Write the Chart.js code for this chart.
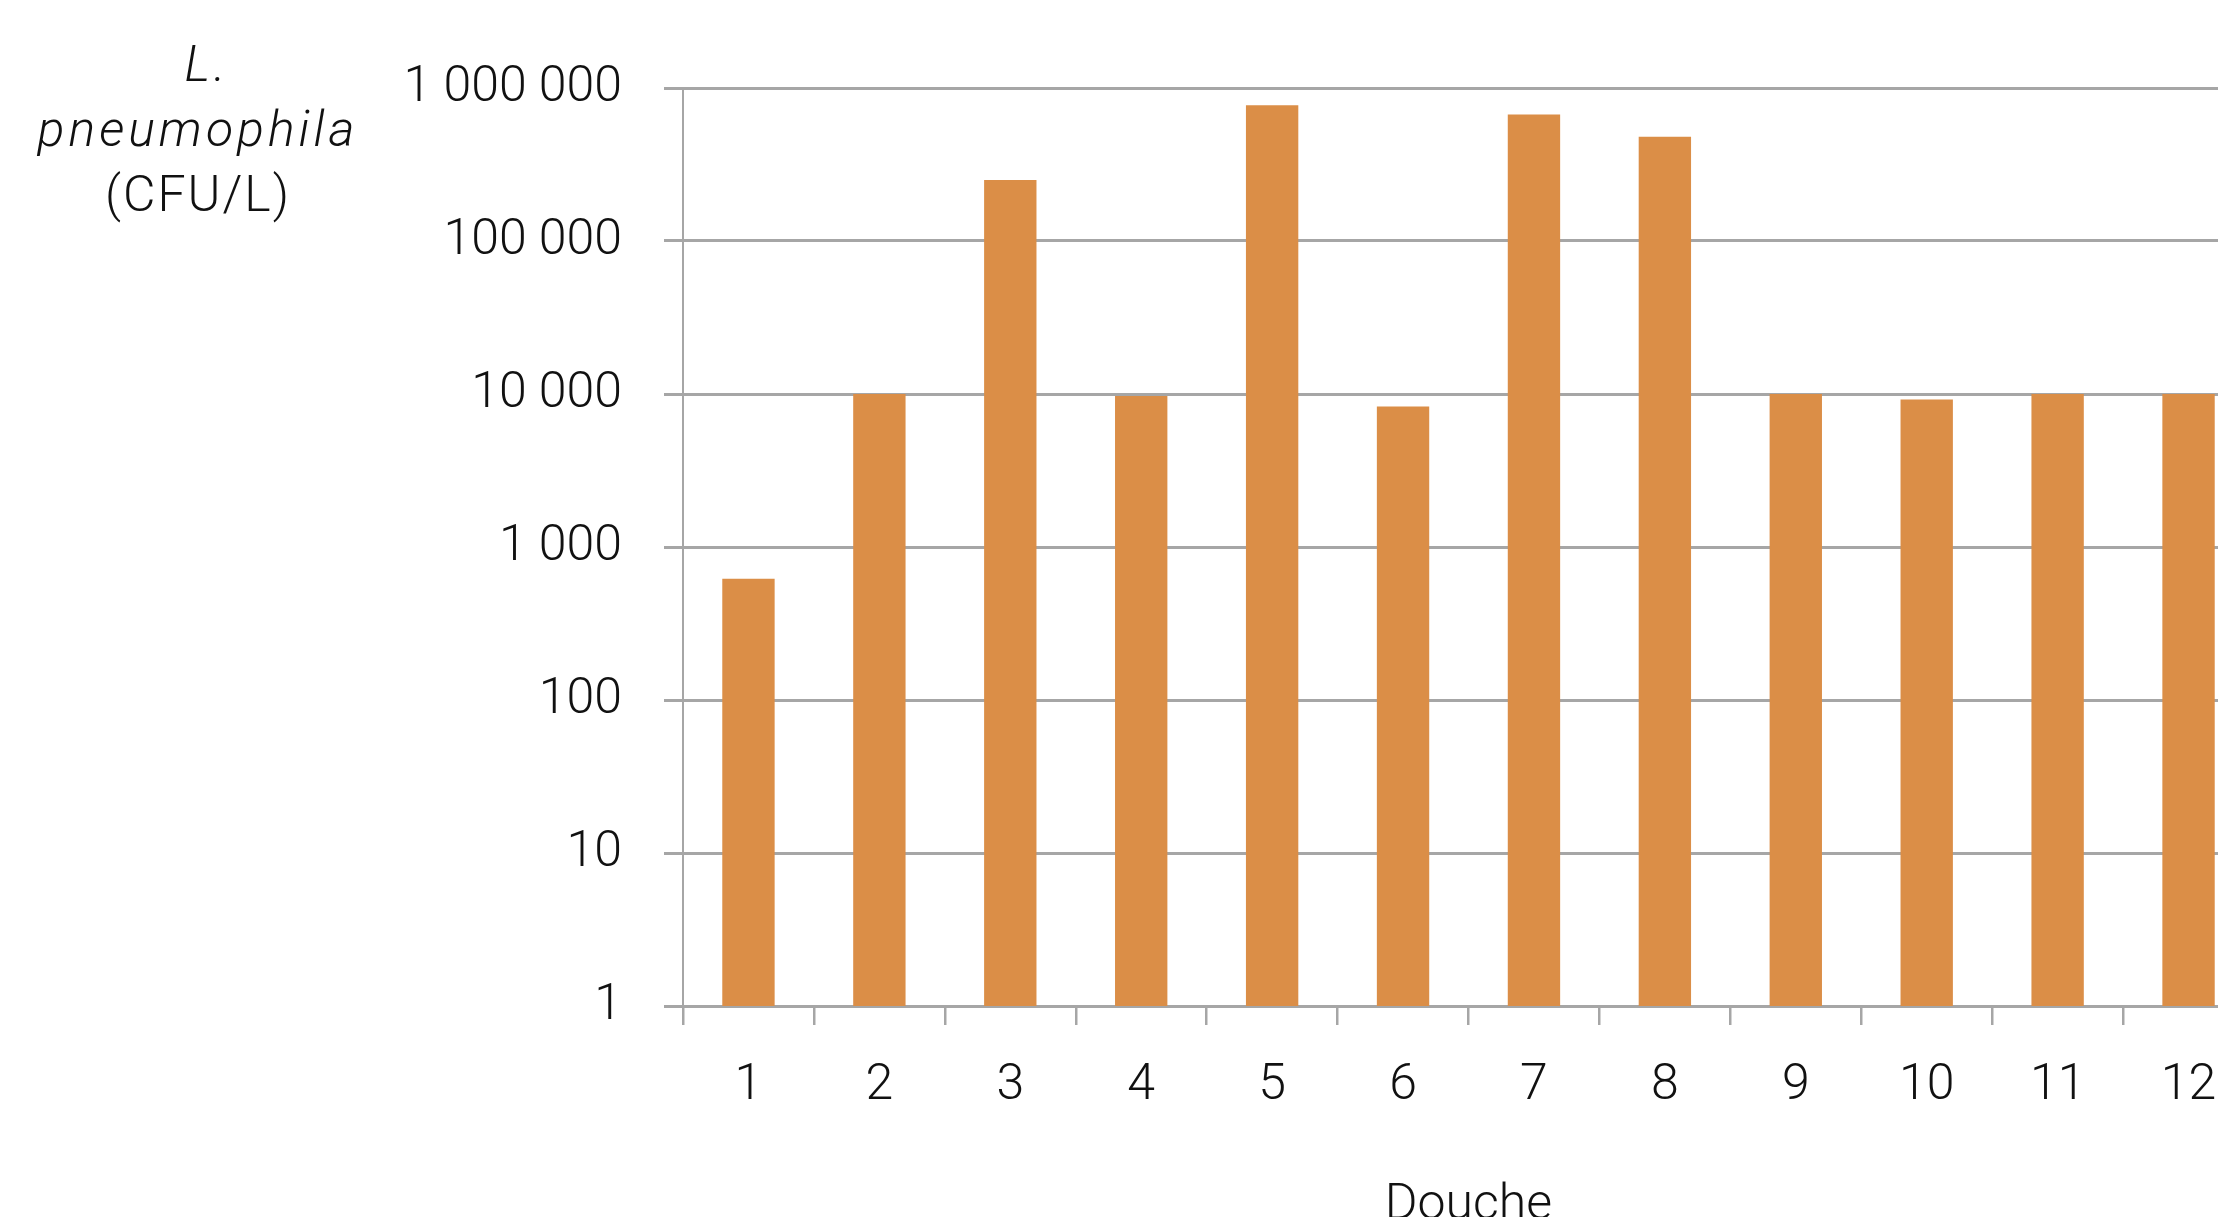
<!DOCTYPE html>
<html>
<head>
<meta charset="utf-8">
<script src="https://cdn.jsdelivr.net/npm/chart.js@4.4.1/dist/chart.umd.min.js"></script>
<style>
    html, body { margin: 0; padding: 0; background: #fff; overflow: hidden; }
    #wrap { position: relative; width: 2254px; height: 1240px; }
    #chartDouche { position: absolute; left: 0; top: 0; }
    #titreY {
        position: absolute; left: 0; top: 32px; width: 396px;
        text-align: center; font-family: Roboto, sans-serif; font-weight: 300;
        font-size: 50px; line-height: 65px; color: #111; letter-spacing: 2px;
    }
    #titreY i { letter-spacing: 4px; }
</style>
</head>
<body>
<div id="wrap">
    <canvas id="chartDouche" width="2254" height="1240"></canvas>
    <div id="titreY"><i style="margin-left:18px">L.</i><br><i>pneumophila</i><br>(CFU/L)</div>
</div>
<script>
var douches = ["1", "2", "3", "4", "5", "6", "7", "8", "9", "10", "11", "12"];
var legionella = [620, 10000, 250000, 9700, 770000, 8300, 670000, 480000, 10000, 9200, 10000, 10000];
var ticksY = [1, 10, 100, 1000, 10000, 100000, 1000000];

var gris = "#A6A6A6";
var police = { family: "Roboto", size: 50, weight: 300 };

function formatNombre(v) {
    return String(v).replace(/\B(?=(\d{3})+(?!\d))/g, " ");
}

var ctx = document.getElementById("chartDouche").getContext("2d");

var chart = new Chart(ctx, {
    type: "bar",
    data: {
        labels: douches,
        datasets: [{
            label: "L. pneumophila (CFU/L)",
            data: legionella,
            backgroundColor: "#DB8E47",
            borderWidth: 0,
            barPercentage: 0.4,
            categoryPercentage: 1.0
        }]
    },
    options: {
        responsive: false,
        animation: false,
        layout: { padding: { top: 88, left: 0, right: 0, bottom: 0 } },
        plugins: {
            legend: { display: false },
            tooltip: { enabled: false }
        },
        scales: {
            x: {
                grid: { drawOnChartArea: false, drawTicks: true, tickLength: 19, color: gris, lineWidth: 2.5, offset: true },
                border: { color: gris, width: 3 },
                ticks: { font: police, color: "#111", padding: 31, maxRotation: 0 },
                title: { display: true, text: "Douche", font: police, color: "#111", padding: { top: 0, bottom: 4 } },
                afterFit: function (s) {
                    s.height = 234;
                    s.paddingLeft = 0;
                    s.paddingRight = 0;
                }
            },
            y: {
                type: "logarithmic",
                min: 1,
                max: 1000000,
                afterBuildTicks: function (s) {
                    s.ticks = ticksY.map(function (v) { return { value: v }; });
                },
                ticks: {
                    font: police,
                    color: "#111",
                    padding: 42,
                    callback: function (v) { return formatNombre(v); }
                },
                grid: { color: gris, lineWidth: 3, tickLength: 19 },
                border: { color: gris, width: 2 },
                afterFit: function (s) {
                    s.width = 683;
                    s.paddingTop = 0;
                    s.paddingBottom = 0;
                }
            }
        }
    }
});
</script>
</body>
</html>
